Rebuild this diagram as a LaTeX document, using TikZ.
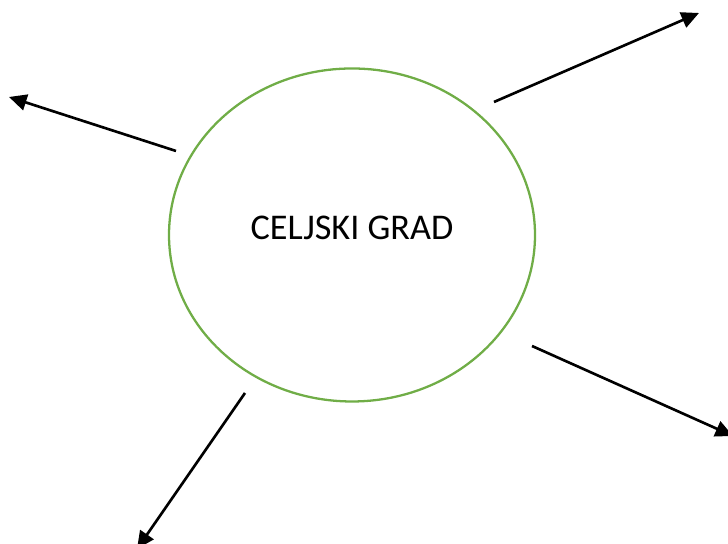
\documentclass[tikz,border=0pt]{standalone}
\usepackage{fontspec}
\setmainfont{Carlito}
\usetikzlibrary{arrows.meta}
\definecolor{ringgreen}{RGB}{112,173,71}

\begin{document}
\begin{tikzpicture}[
    ring/.style={draw=ringgreen, line width=0.65pt},
    arr/.style={-{Triangle[length=5pt, width=4.6pt]}, line width=0.75pt}
  ]
    \clip (0,0) rectangle (7.28,5.44);

    % Draw the central ellipse
    \draw[ring] (3.52,3.09) ellipse [x radius=1.83, y radius=1.665];
    \node (grad) at (3.52,3.16) {\fontsize{10.3}{12}\selectfont CELJSKI GRAD};

    % Draw the arrows pointing out
    \foreach \i/\sx/\sy/\ex/\ey in {1/1.76/3.93/0.09/4.47, 2/4.94/4.42/6.99/5.31, 3/5.32/1.98/7.33/1.08, 4/2.45/1.51/1.37/-0.05} {
      \coordinate (s\i) at (\sx,\sy);
      \coordinate (e\i) at (\ex,\ey);
      \draw[arr] (s\i) -- (e\i);
    }
  \end{tikzpicture}
\end{document}
